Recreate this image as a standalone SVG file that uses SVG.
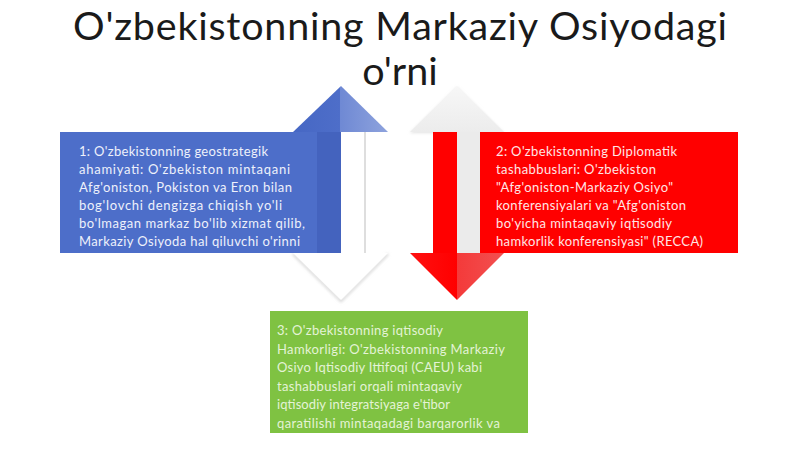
<svg xmlns="http://www.w3.org/2000/svg" width="800" height="449" viewBox="0 0 800 449">
<defs>
<style>
.title{font-family:"Lato","Liberation Sans",sans-serif;font-size:39.5px;fill:#1a1a1a}
.t{font-family:"Lato","Liberation Sans",sans-serif;font-size:13px}
.tb{fill:#eef1fb}
.tr{fill:#ffe6e6}
.tg{fill:#e4f3d6}
</style>
<linearGradient id="gBlueHead" x1="0" y1="0" x2="1" y2="0">
<stop offset="0" stop-color="#4667c4"/>
<stop offset="0.5" stop-color="#4e6ec9"/>
<stop offset="0.5" stop-color="#6f89d4"/>
<stop offset="1" stop-color="#8ea3dd"/>
</linearGradient>
<linearGradient id="gRedHead" x1="0" y1="0" x2="1" y2="0">
<stop offset="0" stop-color="#ff1010"/>
<stop offset="0.5" stop-color="#ff0000"/>
<stop offset="0.5" stop-color="#f43a3a"/>
<stop offset="1" stop-color="#f25050"/>
</linearGradient>
<linearGradient id="gGhostUp" x1="0" y1="0" x2="0" y2="1">
<stop offset="0" stop-color="#f7f7f7"/>
<stop offset="1" stop-color="#ececec"/>
</linearGradient>
<filter id="soft" x="-20%" y="-20%" width="140%" height="140%">
<feGaussianBlur stdDeviation="1.5"/>
</filter>
</defs>
<rect width="800" height="449" fill="#ffffff"/>
<g id="title">
<text class="title" x="400" y="39.5" text-anchor="middle" textLength="654">O'zbekistonning Markaziy Osiyodagi</text>
<text class="title" x="400" y="85" text-anchor="middle">o'rni</text>
</g>
<g id="connectors">
<polygon points="293,132 341,86 388,132" fill="url(#gBlueHead)"/>
<rect x="317" y="132" width="24" height="121" fill="#4463be"/>
<rect x="341" y="132" width="24" height="121" fill="#ffffff"/>
<line x1="365" y1="132" x2="365" y2="253" stroke="#c8c8c8" stroke-width="1.2"/>
<polyline points="293,254 341,301 388,254" fill="none" stroke="#d0d0d0" stroke-width="2" filter="url(#soft)"/>
<polygon points="293,253 341,300 388,253" fill="#ffffff"/>
<polygon points="410,133 457,87 504,133" fill="#e2e2e2" filter="url(#soft)"/>
<polygon points="410,132 457,86 504,132" fill="url(#gGhostUp)"/>
<rect x="433" y="132" width="24" height="121" fill="#ff0000"/>
<rect x="457" y="132" width="23" height="121" fill="#ebebeb"/>
<polygon points="410,253 457,300 504,253" fill="url(#gRedHead)"/>
</g>
<g id="node-1">
<rect x="60" y="132" width="257" height="121" fill="#4d6ec9"/>
<text class="t tb" x="79" y="156" textLength="189">1: O'zbekistonning geostrategik</text>
<text class="t tb" x="79" y="174" textLength="211">ahamiyati: O'zbekiston mintaqani</text>
<text class="t tb" x="79" y="192" textLength="213">Afg'oniston, Pokiston va Eron bilan</text>
<text class="t tb" x="79" y="210" textLength="203">bog'lovchi dengizga chiqish yo'li</text>
<text class="t tb" x="79" y="228" textLength="226">bo'lmagan markaz bo'lib xizmat qilib,</text>
<text class="t tb" x="79" y="246" textLength="221">Markaziy Osiyoda hal qiluvchi o'rinni</text>
</g>
<g id="node-2">
<rect x="480" y="132" width="258" height="121" fill="#ff0000"/>
<text class="t tr" x="496" y="156" textLength="181">2: O'zbekistonning Diplomatik</text>
<text class="t tr" x="496" y="174" textLength="160">tashabbuslari: O'zbekiston</text>
<text class="t tr" x="496" y="192" textLength="177">"Afg'oniston-Markaziy Osiyo"</text>
<text class="t tr" x="496" y="210" textLength="190">konferensiyalari va "Afg'oniston</text>
<text class="t tr" x="496" y="228" textLength="176">bo'yicha mintaqaviy iqtisodiy</text>
<text class="t tr" x="496" y="246" textLength="207">hamkorlik konferensiyasi" (RECCA)</text>
</g>
<g id="node-3">
<rect x="270" y="311" width="258" height="122" fill="#7fc242"/>
<text class="t tg" x="277" y="335" textLength="166">3: O'zbekistonning iqtisodiy</text>
<text class="t tg" x="277" y="353.5" textLength="228">Hamkorligi: O'zbekistonning Markaziy</text>
<text class="t tg" x="277" y="372" textLength="205">Osiyo Iqtisodiy Ittifoqi (CAEU) kabi</text>
<text class="t tg" x="277" y="390.5" textLength="185">tashabbuslari orqali mintaqaviy</text>
<text class="t tg" x="277" y="409" textLength="173">iqtisodiy integratsiyaga e'tibor</text>
<text class="t tg" x="277" y="427.5" textLength="223">qaratilishi mintaqadagi barqarorlik va</text>
</g>
</svg>
